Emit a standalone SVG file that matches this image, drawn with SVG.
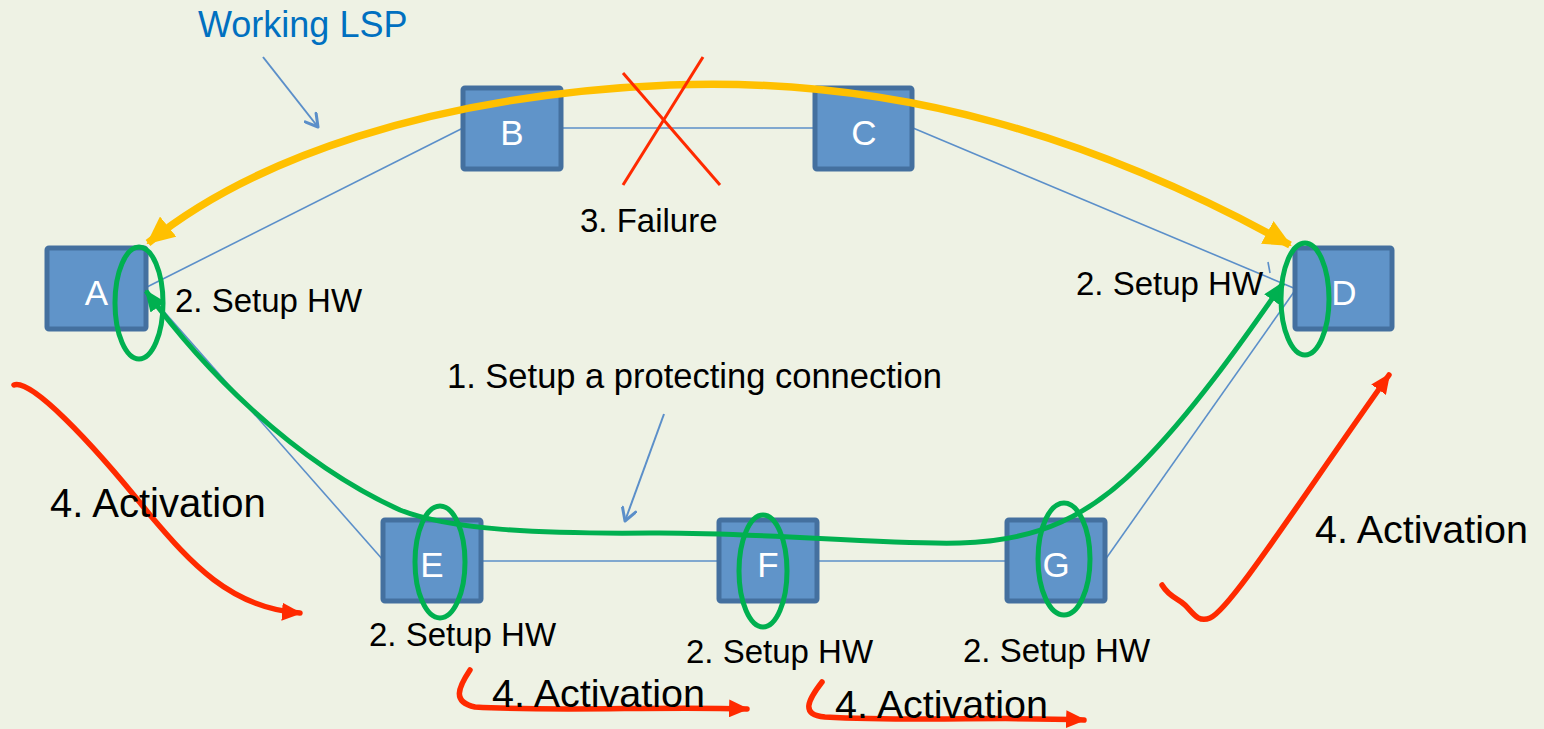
<svg xmlns="http://www.w3.org/2000/svg" width="1544" height="729" viewBox="0 0 1544 729">
<style>
.bg{fill:#EEF2E4}
.box{fill:#6094C9;stroke:#44709F;stroke-width:5;stroke-linejoin:round}
.lbl{font-family:"Liberation Sans",Arial,sans-serif;font-size:35px;fill:#FFFFFF;text-anchor:middle}
.txt{font-family:"Liberation Sans",Arial,sans-serif;fill:#000000}
.link{stroke:#5B8FC9;stroke-width:1.6;fill:none}
.yel{stroke:#FFC000;stroke-width:7.5;fill:none}
.grn{stroke:#00B050;stroke-width:5;fill:none}
.ring{stroke:#00B050;stroke-width:5;fill:none}
.red{stroke:#FF2A00;stroke-width:5.5;fill:none;stroke-linecap:round}
.ptr{stroke:#5B8FC9;stroke-width:2;fill:none}
</style>
<defs>
<marker id="yHead" viewBox="0 0 28 26" refX="26" refY="13" markerWidth="28" markerHeight="26" markerUnits="userSpaceOnUse" orient="auto-start-reverse">
<path d="M0,0 L28,13 L0,26 z" fill="#FFC000"/>
</marker>
<marker id="gHead" viewBox="0 0 22 18" refX="20" refY="9" markerWidth="22" markerHeight="18" markerUnits="userSpaceOnUse" orient="auto-start-reverse">
<path d="M0,0 L22,9 L0,18 z" fill="#00B050"/>
</marker>
<marker id="rHead" viewBox="0 0 20 18" refX="18" refY="9" markerWidth="20" markerHeight="18" markerUnits="userSpaceOnUse" orient="auto">
<path d="M0,0 L20,9 L0,18 z" fill="#FF2A00"/>
</marker>
<marker id="vHead" viewBox="0 0 16 16" refX="14" refY="8" markerWidth="16" markerHeight="16" markerUnits="userSpaceOnUse" orient="auto">
<path d="M2,1 L14,8 L2,15" fill="none" stroke="#5B8FC9" stroke-width="3" stroke-linecap="round" stroke-linejoin="round"/>
</marker>
</defs>
<rect class="bg" x="0" y="0" width="1544" height="729"/>

<g id="connectors">
<line class="link" x1="143" y1="289" x2="463" y2="128"/>
<line class="link" x1="562" y1="128" x2="815" y2="128"/>
<line class="link" x1="913" y1="128" x2="1296" y2="289"/>
<line class="link" x1="145" y1="290" x2="383" y2="560"/>
<line class="link" x1="481" y1="561" x2="719" y2="561"/>
<line class="link" x1="817" y1="561" x2="1007" y2="561"/>
<line class="link" x1="1105" y1="560" x2="1296" y2="289"/>
<line class="link" x1="1268" y1="262" x2="1270" y2="273"/>
</g>

<g id="node-A"><rect class="box" x="47" y="248" width="99" height="81" rx="2"/><text class="lbl" x="96.5" y="305">A</text></g>
<g id="node-B"><rect class="box" x="463" y="88" width="98" height="81" rx="2"/><text class="lbl" x="512" y="145">B</text></g>
<g id="node-C"><rect class="box" x="815" y="88" width="97" height="81" rx="2"/><text class="lbl" x="864" y="145">C</text></g>
<g id="node-D"><rect class="box" x="1295" y="248" width="97" height="81" rx="2"/><text class="lbl" x="1344" y="305">D</text></g>
<g id="node-E"><rect class="box" x="383" y="520" width="98" height="81" rx="2"/><text class="lbl" x="432" y="577">E</text></g>
<g id="node-F"><rect class="box" x="719" y="520" width="98" height="81" rx="2"/><text class="lbl" x="768" y="577">F</text></g>
<g id="node-G"><rect class="box" x="1007" y="520" width="98" height="81" rx="2"/><text class="lbl" x="1056" y="577">G</text></g>

<g id="working-lsp">
<path class="yel" d="M148,243 C250,160 430,95 670,85 C900,76 1100,140 1290,245" marker-start="url(#yHead)" marker-end="url(#yHead)"/>
<text class="txt" x="198" y="37" font-size="36" style="fill:#0070C0">Working LSP</text>
<line class="ptr" x1="263" y1="57" x2="318" y2="127" marker-end="url(#vHead)"/>
</g>

<g id="protecting-lsp">
<path class="grn" d="M146,291 C200,365 290,460 400,510 C450,530 540,534 650,533 C760,532 880,545 960,543 C1040,541 1090,515 1140,465 C1190,415 1240,345 1283,283" marker-start="url(#gHead)" marker-end="url(#gHead)"/>
<text class="txt" x="447" y="388" font-size="34.5">1. Setup a protecting connection</text>
<line class="ptr" x1="664" y1="414" x2="625" y2="521" marker-end="url(#vHead)"/>
</g>

<g id="setup-hw">
<ellipse class="ring" cx="139" cy="303" rx="24" ry="56"/>
<ellipse class="ring" cx="1305" cy="299" rx="24" ry="56"/>
<ellipse class="ring" cx="440" cy="562" rx="25" ry="56"/>
<ellipse class="ring" cx="763" cy="571" rx="24" ry="56"/>
<ellipse class="ring" cx="1064" cy="559" rx="26" ry="56"/>
<text class="txt" x="175" y="312" font-size="33">2. Setup HW</text>
<text class="txt" x="1076" y="295" font-size="33">2. Setup HW</text>
<text class="txt" x="369" y="646" font-size="33">2. Setup HW</text>
<text class="txt" x="686" y="663" font-size="33">2. Setup HW</text>
<text class="txt" x="963" y="662" font-size="33">2. Setup HW</text>
</g>

<g id="failure">
<line x1="623" y1="185" x2="703" y2="57" stroke="#FF2A00" stroke-width="3"/>
<line x1="623" y1="73" x2="720" y2="185" stroke="#FF2A00" stroke-width="3"/>
<text class="txt" x="580" y="232" font-size="33">3. Failure</text>
</g>

<g id="activation">
<path class="red" d="M14,385 C30,378 90,440 150,515 C190,562 230,608 300,613" marker-end="url(#rHead)"/>
<path class="red" d="M1162,585 C1170,598 1178,598 1185,605 C1193,613 1198,623 1210,618 C1230,610 1300,500 1389,375" marker-end="url(#rHead)"/>
<path class="red" d="M470,670 C458,688 452,702 475,707 C560,712 660,706 747,709" marker-end="url(#rHead)"/>
<path class="red" d="M822,682 C808,700 800,715 825,717 C920,722 1000,716 1084,720" marker-end="url(#rHead)"/>
<text class="txt" x="50" y="517" font-size="40">4. Activation</text>
<text class="txt" x="1315" y="543" font-size="39.5">4. Activation</text>
<text class="txt" x="492" y="707" font-size="39.5">4. Activation</text>
<text class="txt" x="835" y="718" font-size="39.5">4. Activation</text>
</g>
</svg>
